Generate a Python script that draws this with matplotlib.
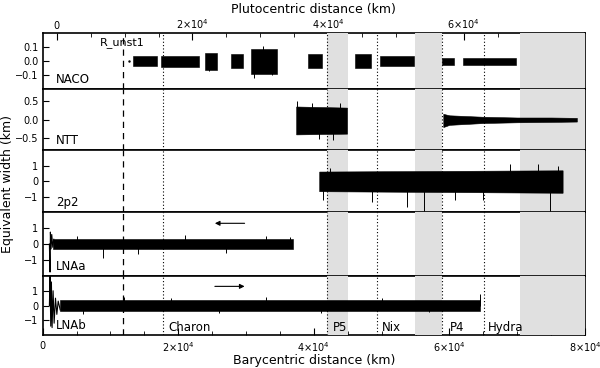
import matplotlib
matplotlib.use('Agg')
import matplotlib.pyplot as plt
from matplotlib.ticker import MultipleLocator, FixedLocator, FuncFormatter

plt.rcParams['font.family'] = ['DejaVu Sans']

# all distances are barycentric, in km
pluto_offset = 2100
r_unst1 = 11800
moon_names = ['Charon', 'P5', 'Nix', 'P4', 'Hydra']
moon_orbits = [17800, 42000, 49300, 58900, 65100]
moon_label_x = [18500, 42800, 50000, 60100, 65700]
zone_start = [42000, 54900, 70400]
zone_end = [45100, 58900, 80000]

panel_names = ['NACO', 'NTT', '2p2', 'LNAa', 'LNAb']
panel_ylim = [0.2, 0.83, 2.0, 2.0, 2.0]
panel_yticks = [[-0.1, 0.0, 0.1], [-0.5, 0.0, 0.5], [-1, 0, 1], [-1, 0, 1], [-1, 0, 1]]
panel_yfmt = ['%.1f', '%.1f', '%d', '%d', '%d']

# noise envelopes
naco_start = [13300, 17400, 23900, 27800, 30700, 39100, 46100, 49700, 58900, 62000]
naco_end = [16900, 23100, 25700, 29500, 34600, 41200, 48400, 54800, 60700, 69800]
naco_amp = [0.035, 0.04, 0.06, 0.05, 0.09, 0.05, 0.05, 0.035, 0.025, 0.025]
naco_spike_x = [31200, 32500, 33800, 24500]
naco_spike_y = [-0.12, 0.11, -0.1, -0.07]

ntt_x = [[37400, 44900], [59100, 60000, 65000, 70000, 75000, 78800]]
ntt_hi = [[0.36, 0.33], [0.16, 0.12, 0.08, 0.06, 0.06, 0.05]]
ntt_lo = [[-0.4, -0.38], [-0.2, -0.14, -0.09, -0.07, -0.06, -0.05]]
ntt_spike_x = [37500, 39700, 42800, 43900, 40800]
ntt_spike_y = [0.5, 0.45, -0.56, 0.45, -0.52]

p2_x = [[40800, 76700]]
p2_hi = [[0.62, 0.7]]
p2_lo = [[-0.65, -0.75]]
p2_spike_x = [41300, 42400, 48600, 53800, 56300, 60800, 65000, 69000, 73000, 74900, 76000]
p2_spike_y = [-1.2, 0.86, -1.35, -1.7, -1.9, -1.2, -1.2, 1.1, 1.1, -1.9, 1.0]

lnaa_x = [[1600, 36900]]
lnaa_hi = [[0.3, 0.3]]
lnaa_lo = [[-0.3, -0.3]]
lnaa_spike_x = [8900, 5000, 14000, 21000, 27000, 33000, 36500]
lnaa_spike_y = [-0.87, 0.5, -0.6, 0.55, -0.55, 0.5, 0.45]
lnaa_ring_x = [1000, 1050, 1100, 1150, 1250, 1350, 1500, 1650]
lnaa_ring_y = [0, -1.0, -1.75, 0.75, -0.3, 0.6, -0.2, 0.3]

lnab_x = [[2600, 64500]]
lnab_hi = [[0.35, 0.35]]
lnab_lo = [[-0.35, -0.35]]
lnab_spike_x = [6000, 12000, 19000, 26000, 33000, 41000, 50000, 57000, 64500]
lnab_spike_y = [-0.55, 0.55, 0.5, -0.5, 0.55, -0.5, 0.5, -0.45, 0.75]
lnab_ring_x = [1000, 1100, 1200, 1300, 1400, 1550, 1700, 1900, 2100, 2300, 2600]
lnab_ring_y = [0, 2.0, -1.4, 1.6, -1.5, 1.0, -1.2, 0.5, -0.6, 0.3, -0.3]

fig, axes = plt.subplots(5, 1, sharex=True, figsize=(6, 3.68), dpi=100,
                         gridspec_kw={'height_ratios': [56, 61, 62, 64, 59]})
fig.subplots_adjust(left=0.071, right=0.975, top=0.9095, bottom=0.0897, hspace=0)


def draw_env(ax, xs, los, his):
    for x, lo, hi in zip(xs, los, his):
        ax.fill_between(x, lo, hi, color='k', lw=0.4, edgecolor='k', zorder=3)


def draw_spikes(ax, sx, sy):
    ax.vlines(sx, 0, sy, color='k', lw=0.7, zorder=3)


# NACO
ax = axes[0]
for s, e, a in zip(naco_start, naco_end, naco_amp):
    ax.fill_between([s, e], -a, a, color='k', lw=0.4, edgecolor='k', zorder=3)
draw_spikes(ax, naco_spike_x, naco_spike_y)
ax.plot([12700], [0.0], 'k.', ms=1.5, zorder=3)

draw_env(axes[1], ntt_x, ntt_lo, ntt_hi)
draw_spikes(axes[1], ntt_spike_x, ntt_spike_y)
draw_env(axes[2], p2_x, p2_lo, p2_hi)
draw_spikes(axes[2], p2_spike_x, p2_spike_y)
draw_env(axes[3], lnaa_x, lnaa_lo, lnaa_hi)
draw_spikes(axes[3], lnaa_spike_x, lnaa_spike_y)
axes[3].plot(lnaa_ring_x, lnaa_ring_y, color='k', lw=0.8, zorder=3)
draw_env(axes[4], lnab_x, lnab_lo, lnab_hi)
draw_spikes(axes[4], lnab_spike_x, lnab_spike_y)
axes[4].plot(lnab_ring_x, lnab_ring_y, color='k', lw=0.8, zorder=3)

# direction arrows
axes[3].annotate('', xy=(25000, 1.3), xytext=(30200, 1.3),
                 arrowprops=dict(arrowstyle='-|>', color='k', lw=0.8, mutation_scale=7))
axes[4].annotate('', xy=(30200, 1.3), xytext=(25000, 1.3),
                 arrowprops=dict(arrowstyle='-|>', color='k', lw=0.8, mutation_scale=7))

for i, ax in enumerate(axes):
    lim = panel_ylim[i]
    ax.set_ylim(-lim, lim)
    ax.set_xlim(0, 80000)
    for s, e in zip(zone_start, zone_end):
        ax.axvspan(s, e, color='#e0e0e0', lw=0, zorder=2.6)
    for m in moon_orbits:
        ax.axvline(m, color='k', lw=0.8, ls=(0, (1, 2)), zorder=2.7)
    ax.axvline(r_unst1, color='k', lw=0.9, ls=(0, (5, 4)), zorder=2.7)
    ax.yaxis.set_major_locator(FixedLocator(panel_yticks[i]))
    fmt = panel_yfmt[i]
    ax.yaxis.set_major_formatter(FuncFormatter(lambda v, p, f=fmt: (f % v).replace('-', '\u2212')))
    ax.tick_params(axis='y', direction='in', length=4, labelsize=7, pad=3, right=False)
    ax.tick_params(axis='x', which='both', direction='in', top=False, bottom=False,
                   labelbottom=False)
    for sp in ax.spines.values():
        sp.set_linewidth(1.2)
    ax.text(0.025, 0.05, panel_names[i], transform=ax.transAxes, ha='left',
            va='bottom', fontsize=8.5, zorder=4)

# bottom axis
xfmt = FuncFormatter(lambda v, p: '0' if v == 0 else r'$%d{\times}10^{4}$' % round(v / 1e4))
ab = axes[4]
ab.xaxis.set_major_locator(FixedLocator([0, 20000, 40000, 60000, 80000]))
ab.xaxis.set_minor_locator(MultipleLocator(5000))
ab.xaxis.set_major_formatter(xfmt)
ab.tick_params(axis='x', which='both', bottom=True, labelbottom=True, labelsize=7, pad=4)
ab.tick_params(axis='x', which='major', length=5)
ab.tick_params(axis='x', which='minor', length=3)
ab.set_xlabel('Barycentric distance (km)', fontsize=9, labelpad=0)

for name, x in zip(moon_names, moon_label_x):
    ab.text(x, -1.47, name, ha='left', va='center', fontsize=8.5, zorder=4)
axes[0].text(r_unst1, 0.135, 'R_unst1', ha='center', va='center', fontsize=8, zorder=4)

# top axis: plutocentric distance
sec = axes[0].secondary_xaxis('top', functions=(lambda x: x - pluto_offset,
                                                lambda x: x + pluto_offset))
sec.xaxis.set_major_locator(FixedLocator([0, 20000, 40000, 60000]))
sec.xaxis.set_minor_locator(MultipleLocator(5000))
sec.xaxis.set_major_formatter(xfmt)
sec.tick_params(axis='x', which='both', direction='in', labelsize=7, pad=2)
sec.tick_params(axis='x', which='major', length=5)
sec.tick_params(axis='x', which='minor', length=3)
sec.spines['top'].set_visible(False)
sec.set_xlabel('Plutocentric distance (km)', fontsize=9, labelpad=3)

fig.text(0.0125, 0.5, 'Equivalent width (km)', rotation=90, ha='center', va='center',
         fontsize=9)

fig.savefig('out.png', dpi=100)
